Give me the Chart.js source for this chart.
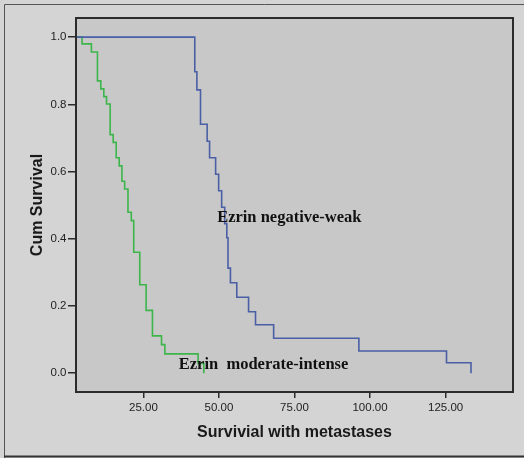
<!DOCTYPE html>
<html>
<head>
<meta charset="utf-8">
<script src="https://cdn.jsdelivr.net/npm/chart.js@4/dist/chart.umd.min.js"></script>
<style>
    body { margin: 0; background: #d4d4d4; }
    #wrap { width: 524px; height: 458px; }
</style>
</head>
<body>
<div id="wrap"><canvas id="km-chart" width="524" height="458"></canvas></div>
<script>
// Ezrin negative-weak (blue)
const weakTimes = [0, 42.0, 42.7, 43.9, 46.1, 46.9, 48.9, 49.9, 50.9, 51.9, 52.6, 53.0, 53.8, 55.9, 59.8, 62.1, 68.1, 96.3, 125.3, 133.4];
const weakSurv = [1.0, 0.897, 0.843, 0.741, 0.690, 0.641, 0.592, 0.543, 0.494, 0.445, 0.403, 0.3125, 0.269, 0.226, 0.183, 0.144, 0.104, 0.066, 0.031, 0.0];

// Ezrin moderate-intense (green)
const intenseTimes = [0, 4.7, 7.8, 9.8, 10.9, 11.9, 12.8, 14.0, 15.0, 16.0, 17.0, 17.9, 18.8, 19.9, 21.0, 21.8, 23.8, 25.9, 28.0, 31.0, 32.1, 43.1, 45.0];
const intenseSurv = [1.0, 0.980, 0.956, 0.870, 0.846, 0.823, 0.801, 0.710, 0.687, 0.641, 0.617, 0.571, 0.548, 0.479, 0.454, 0.360, 0.263, 0.187, 0.111, 0.085, 0.0575, 0.029, 0.0];

const xTicks = [25, 50, 75, 100, 125];
const yTicks = [0, 0.2, 0.4, 0.6, 0.8, 1.0];

const INK = "#2b2b2b";

const toPoints = (xs, ys) => xs.map((x, i) => ({ x, y: ys[i] }));

const framePlugin = {
    id: "frame",
    beforeDraw(chart) {
        const { ctx, chartArea: a, width, height } = chart;
        ctx.save();
        ctx.fillStyle = "#d4d4d4";
        ctx.fillRect(0, 0, width, height);
        // outer frame
        ctx.strokeStyle = "#555";
        ctx.lineWidth = 1;
        ctx.beginPath();
        ctx.moveTo(width, 4.5);
        ctx.lineTo(4.5, 4.5);
        ctx.lineTo(4.5, height);
        ctx.stroke();
        ctx.strokeStyle = "#333";
        ctx.lineWidth = 2;
        ctx.beginPath();
        ctx.moveTo(4, 456.5);
        ctx.lineTo(width, 456.5);
        ctx.stroke();
        ctx.fillStyle = "#c8c8c8";
        ctx.fillRect(a.left, a.top, a.right - a.left, a.bottom - a.top);
        ctx.restore();
    },
    afterDraw(chart) {
        const { ctx, chartArea: a, scales } = chart;
        ctx.save();
        ctx.strokeStyle = INK;
        ctx.lineWidth = 2;
        ctx.strokeRect(a.left, a.top, a.right - a.left, a.bottom - a.top);
        ctx.fillStyle = "#111";
        ctx.font = "bold 16.5px 'Liberation Serif', 'Times New Roman', serif";
        ctx.textBaseline = "alphabetic";
        ctx.textAlign = "left";
        ctx.fillText("Ezrin negative-weak", scales.x.getPixelForValue(49.4), scales.y.getPixelForValue(0.45));
        ctx.fillText("Ezrin  moderate-intense", scales.x.getPixelForValue(36.7), scales.y.getPixelForValue(0.011));
        ctx.restore();
    },
};

new Chart(document.getElementById("km-chart").getContext("2d"), {
    type: "line",
    data: {
        datasets: [
            {
                label: "Ezrin negative-weak",
                data: toPoints(weakTimes, weakSurv),
                borderColor: "#4a5fa6",
                borderWidth: 1.6,
                stepped: "before",
                pointRadius: 0,
                fill: false,
            },
            {
                label: "Ezrin moderate-intense",
                data: toPoints(intenseTimes, intenseSurv),
                borderColor: "#3cb54a",
                borderWidth: 1.6,
                stepped: "before",
                pointRadius: 0,
                fill: false,
            },
        ],
    },
    options: {
        responsive: false,
        animation: false,
        layout: { padding: { top: 18, right: 11, left: 0, bottom: 0 } },
        plugins: { legend: { display: false }, tooltip: { enabled: false } },
        scales: {
            x: {
                type: "linear",
                min: 2.7,
                max: 147.3,
                afterFit: (s) => { s.height = 66; },
                afterBuildTicks: (s) => { s.ticks = xTicks.map((v) => ({ value: v })); },
                grid: { drawOnChartArea: false, tickLength: 6, color: INK, lineWidth: 1.5 },
                border: { display: false },
                ticks: {
                    padding: 3,
                    color: "#222",
                    font: { family: "'Liberation Sans', Arial, sans-serif", size: 11.5 },
                    callback: (v) => Number(v).toFixed(2),
                    maxRotation: 0,
                },
                title: {
                    display: true,
                    text: "Survivial with metastases",
                    color: "#1a1a1a",
                    font: { family: "'Liberation Sans', Arial, sans-serif", size: 16, weight: "bold" },
                    padding: { top: 0, bottom: 15.4 },
                },
            },
            y: {
                min: -0.056,
                max: 1.057,
                afterFit: (s) => { s.width = 76; },
                afterBuildTicks: (s) => { s.ticks = yTicks.map((v) => ({ value: v })); },
                grid: { drawOnChartArea: false, tickLength: 8, color: INK, lineWidth: 1.5 },
                border: { display: false },
                ticks: {
                    padding: 1.5,
                    color: "#222",
                    font: { family: "'Liberation Sans', Arial, sans-serif", size: 11.5 },
                    callback: (v) => Number(v).toFixed(1),
                },
                title: {
                    display: true,
                    text: "Cum Survival",
                    color: "#1a1a1a",
                    font: { family: "'Liberation Sans', Arial, sans-serif", size: 16, weight: "bold" },
                    padding: { top: 28.4, bottom: 0 },
                },
            },
        },
    },
    plugins: [framePlugin],
});
</script>
</body>
</html>
